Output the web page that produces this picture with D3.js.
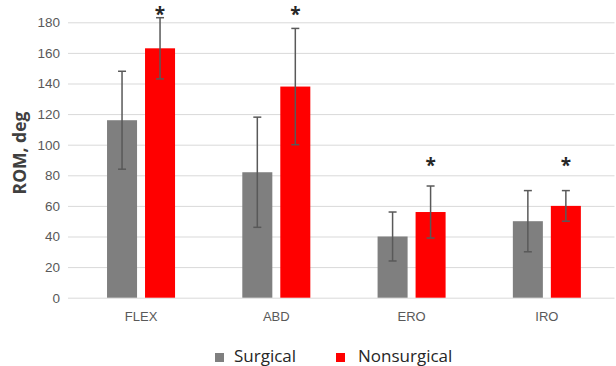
<!DOCTYPE html>
<html>
<head>
<meta charset="utf-8">
<script src="https://cdn.jsdelivr.net/npm/d3@7"></script>
<style>
  html, body { margin: 0; padding: 0; background: #fff; }
  svg { display: block; font-family: "Open Sans", "Noto Sans", sans-serif; }
</style>
</head>
<body>
<svg id="chart" width="616" height="366"></svg>
<script>
// Range of motion by movement, mean ± SD
const categories = ["FLEX", "ABD", "ERO", "IRO"];
const seriesNames = ["Surgical", "Nonsurgical"];
const surgicalMean = [116, 82, 40, 50];
const surgicalSD = [32, 36, 16, 20];
const nonsurgicalMean = [163, 138, 56, 60];
const nonsurgicalSD = [20, 38, 17, 10];
// Significance marker height (deg) over the nonsurgical bar
const significance = [189, 189, 90, 90];
const yTicks = [0, 20, 40, 60, 80, 100, 120, 140, 160, 180];

const colors = { Surgical: "#7f7f7f", Nonsurgical: "#ff0000" };

const svg = d3.select("#chart");
const margin = { left: 73.4, right: 1.5, top: 22.3, bottom: 68.3 };
const W = 616, H = 366;

const x = d3.scaleBand().domain(categories)
  .range([margin.left, W - margin.right]).paddingInner(0).paddingOuter(0);
const xSub = d3.scaleBand().domain(seriesNames)
  .range([0, x.bandwidth()]).paddingInner(0.21).paddingOuter(0.885);
const y = d3.scaleLinear().domain([0, 180]).range([H - margin.bottom, margin.top]);

// Gridlines and value labels
const yAxis = d3.axisLeft(y).tickValues(yTicks).tickSize(-(W - margin.right - 68)).tickPadding(8);
const gy = svg.append("g").attr("transform", `translate(68,0)`).call(yAxis);
gy.select(".domain").remove();
gy.selectAll(".tick line").attr("stroke", "#d9d9d9").attr("stroke-width", 1);
gy.selectAll(".tick text").attr("fill", "#595959").attr("font-size", 13.5);

// Category axis labels
const xAxis = d3.axisBottom(x).tickSize(0).tickPadding(14);
const gx = svg.append("g").attr("transform", `translate(0,${y(0)})`).call(xAxis);
gx.select(".domain").remove();
gx.selectAll(".tick text").attr("fill", "#595959").attr("font-size", 13);

// Y axis title
svg.append("text")
  .attr("transform", `translate(26,153) rotate(-90)`)
  .attr("text-anchor", "middle")
  .attr("font-size", 17.5).attr("font-weight", "bold").attr("fill", "#404040")
  .text("ROM, deg");

const rows = categories.map((c, i) => ({
  cat: c,
  bars: [
    { s: "Surgical", mean: surgicalMean[i], sd: surgicalSD[i] },
    { s: "Nonsurgical", mean: nonsurgicalMean[i], sd: nonsurgicalSD[i] }
  ],
  sig: significance[i]
}));

const groups = svg.selectAll(".grp").data(rows).join("g")
  .attr("class", "grp")
  .attr("transform", d => `translate(${x(d.cat)},0)`);

groups.selectAll("rect").data(d => d.bars).join("rect")
  .attr("x", d => xSub(d.s))
  .attr("width", xSub.bandwidth())
  .attr("y", d => y(d.mean))
  .attr("height", d => y(0) - y(d.mean))
  .attr("fill", d => colors[d.s]);

// Error bars
const capW = 8;
const eb = groups.selectAll(".err").data(d => d.bars).join("g").attr("class", "err")
  .attr("stroke", "#595959").attr("stroke-width", 1.5);
const cx = d => xSub(d.s) + xSub.bandwidth() / 2;
eb.append("line")
  .attr("x1", cx).attr("x2", cx)
  .attr("y1", d => y(d.mean + d.sd))
  .attr("y2", d => y(d.mean - d.sd));
eb.append("line")
  .attr("x1", d => cx(d) - capW / 2).attr("x2", d => cx(d) + capW / 2)
  .attr("y1", d => y(d.mean + d.sd)).attr("y2", d => y(d.mean + d.sd));
eb.append("line")
  .attr("x1", d => cx(d) - capW / 2).attr("x2", d => cx(d) + capW / 2)
  .attr("y1", d => y(d.mean - d.sd)).attr("y2", d => y(d.mean - d.sd));

// Significance asterisks
groups.append("text")
  .attr("x", xSub("Nonsurgical") + xSub.bandwidth() / 2)
  .attr("y", d => y(d.sig) + 12)
  .attr("text-anchor", "middle")
  .attr("font-size", 19).attr("font-weight", "bold").attr("fill", "#262626")
  .text("*");

// Legend
const legendItems = [
  { s: "Surgical", sx: 215, tx: 234 },
  { s: "Nonsurgical", sx: 336, tx: 358 }
];
const lg = svg.append("g");
lg.selectAll("rect").data(legendItems).join("rect")
  .attr("x", d => d.sx).attr("y", 353).attr("width", 9).attr("height", 9)
  .attr("fill", d => colors[d.s]);
lg.selectAll("text").data(legendItems).join("text")
  .attr("x", d => d.tx).attr("y", 362)
  .attr("font-size", 17).attr("fill", "#262626")
  .text(d => d.s);
</script>
</body>
</html>
